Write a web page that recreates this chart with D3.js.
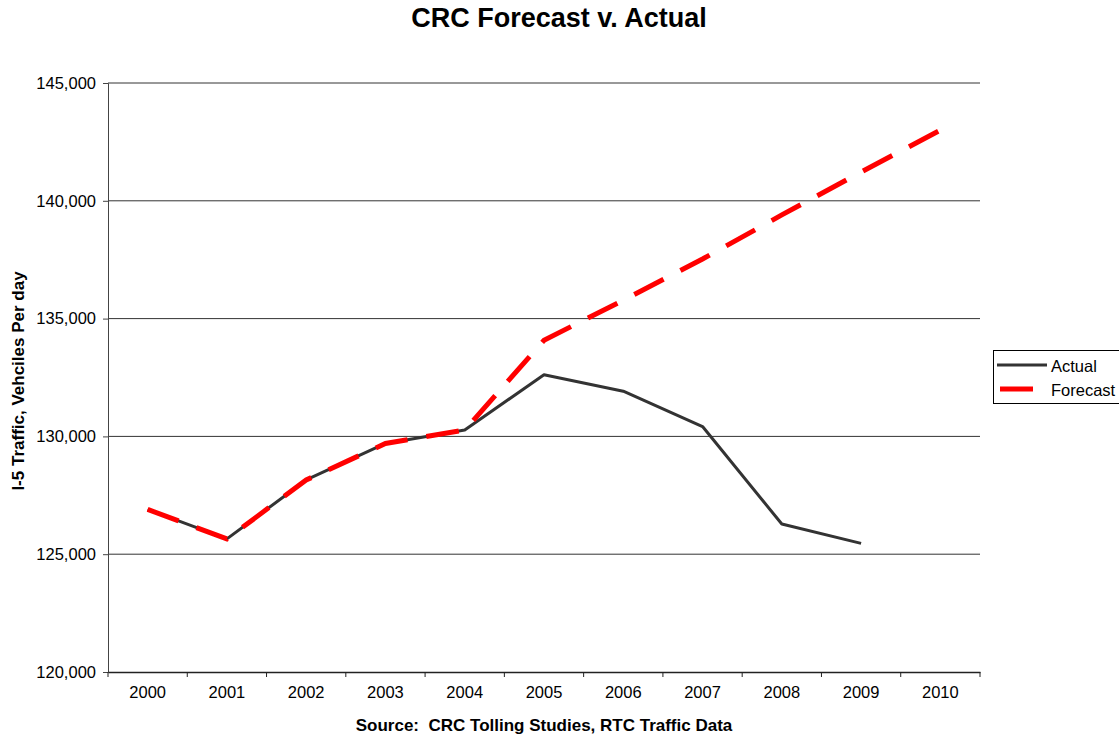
<!DOCTYPE html>
<html><head><meta charset="utf-8">
<script src="https://cdn.jsdelivr.net/npm/d3@7"></script>
<style>body{margin:0;background:#fff}svg{font-family:"Liberation Sans",Arial,sans-serif}</style>
</head><body><svg id="c" width="1119" height="738"></svg>
<script>
const years = ["2000","2001","2002","2003","2004","2005","2006","2007","2008","2009","2010"];
const actual = [126900,125650,128150,129700,130270,132620,131920,130420,126280,125460];
const forecast = [126900,125650,128150,129700,130270,134080,135780,137530,139400,141220,143000];
const yTicks = [120000,125000,130000,135000,140000,145000];

const svg = d3.select("#c");
const m = {l:108, r:980, t:83, b:672};
const x = d3.scaleBand().domain(years).range([m.l, m.r]);
const y = d3.scaleLinear().domain([120000,145000]).range([m.b, m.t]);
const fmt = d3.format(",");

// gridlines
svg.append("g").selectAll("line").data(yTicks.slice(1)).join("line")
  .attr("x1", m.l).attr("x2", m.r).attr("y1", d=>y(d)).attr("y2", d=>y(d))
  .attr("stroke", "#333").attr("stroke-width", 1);

// y axis
const ya = svg.append("g").attr("transform", `translate(${m.l},0)`)
  .call(d3.axisLeft(y).tickValues(yTicks).tickFormat(fmt).tickSize(5).tickPadding(7));
ya.select(".domain").attr("stroke", "#444").attr("stroke-width", 1);
ya.selectAll(".tick line").attr("stroke", "#444");
ya.selectAll("text").attr("font-size", 16.5).attr("fill", "#000").attr("font-family", "Liberation Sans, Arial");

// x axis
const xa = svg.append("g").attr("transform", `translate(0,${m.b})`)
  .call(d3.axisBottom(x).tickSize(0).tickPadding(14));
xa.select(".domain").attr("stroke", "#222").attr("stroke-width", 1.3);
xa.selectAll("text").attr("font-size", 16.5).attr("fill", "#000").attr("font-family", "Liberation Sans, Arial");
svg.append("g").selectAll("line").data(years.concat(["end"])).join("line")
  .attr("x1", (d,i)=>m.l + i*x.step()).attr("x2", (d,i)=>m.l + i*x.step())
  .attr("y1", m.b).attr("y2", m.b+5).attr("stroke", "#222").attr("stroke-width", 1);

const cx = d => x(d) + x.bandwidth()/2;
const line = d3.line().x((d,i)=>cx(years[i])).y(d=>y(d));

svg.append("path").datum(actual).attr("d", line).attr("fill", "none")
  .attr("stroke", "#333").attr("stroke-width", 3).attr("stroke-linejoin", "round");
svg.append("path").datum(forecast).attr("d", line).attr("fill", "none")
  .attr("stroke", "#ff0000").attr("stroke-width", 5).attr("stroke-dasharray", "33,19");

// title
svg.append("text").attr("x", 559).attr("y", 27).attr("text-anchor", "middle")
  .attr("font-size", 27).attr("font-weight", "bold").text("CRC Forecast v. Actual");
svg.append("text").attr("x", 544).attr("y", 731).attr("text-anchor", "middle")
  .attr("font-size", 17).attr("font-weight", "bold").attr("xml:space", "preserve")
  .style("white-space", "pre").text("Source:  CRC Tolling Studies, RTC Traffic Data");
svg.append("text").attr("transform", "translate(24,381) rotate(-90)").attr("text-anchor", "middle")
  .attr("font-size", 17).attr("font-weight", "bold").text("I-5 Traffic, Vehciles Per day");

// legend
const lg = svg.append("g");
lg.append("rect").attr("x", 993.5).attr("y", 350.5).attr("width", 130).attr("height", 53)
  .attr("fill", "#fff").attr("stroke", "#000").attr("stroke-width", 1);
lg.append("line").attr("x1", 997).attr("x2", 1047).attr("y1", 365).attr("y2", 365)
  .attr("stroke", "#333").attr("stroke-width", 3);
lg.append("line").attr("x1", 1000).attr("x2", 1033).attr("y1", 389).attr("y2", 389)
  .attr("stroke", "#ff0000").attr("stroke-width", 5);
lg.append("text").attr("x", 1051).attr("y", 372).attr("font-size", 16.5).text("Actual");
lg.append("text").attr("x", 1051).attr("y", 396).attr("font-size", 16.5).text("Forecast");
</script></body></html>
